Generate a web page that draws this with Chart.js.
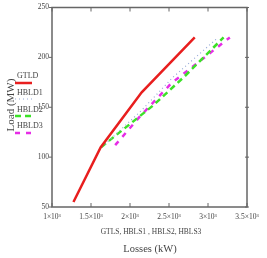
<!DOCTYPE html>
<html>
<head>
<meta charset="utf-8">
<script src="https://cdn.jsdelivr.net/npm/chart.js@4.4.1/dist/chart.umd.min.js"></script>
<style>
    html, body { margin: 0; padding: 0; background: #fff; overflow: hidden; }
    canvas { display: block; }
</style>
</head>
<body>
<canvas id="lossChart" width="267" height="258"></canvas>
<script>
// losses (kW) vs load (MW)
const gtldLoss = [1275, 1625, 2150, 2830];
const gtldLoad = [55, 110, 165, 220];
const hbld1Loss = [1640, 2150, 2550, 3130];
const hbld1Load = [110, 147, 180, 220];
const hbld2Loss = [1630, 2300, 2700, 3200];
const hbld2Load = [110, 152, 181, 220];
const hbld3Loss = [1810, 2130, 2530, 2810, 3280];
const hbld3Load = [112, 141, 174, 191, 220];

const seriesNames = ['GTLD', 'HBLD1', 'HBLD2', 'HBLD3'];
const xTicks = [1000, 1500, 2000, 2500, 3000, 3500];
const xTickLabels = ['1×10³', '1.5×10³', '2×10³', '2.5×10³', '3×10³', '3.5×10³'];
const yTicks = [50, 100, 150, 200, 250];

const axisColor = '#666';
const textColor = '#444';

function pairs(xs, ys) {
    return xs.map((x, i) => ({ x: x, y: ys[i] }));
}

const styles = [
    { color: 'rgb(232,30,30)', width: 2.5, dash: [] },
    { color: 'rgb(150,170,215)', width: 1.2, dash: [1, 3] },
    { color: 'rgb(60,225,40)', width: 2.5, dash: [6, 4] },
    { color: 'rgb(230,45,230)', width: 2.5, dash: [5, 6] }
];

const decor = {
    id: 'decor',
    afterDraw(chart) {
        const ctx = chart.ctx;
        const a = chart.chartArea;
        const xs = chart.scales.x;
        const ys = chart.scales.y;
        ctx.save();
        // box
        ctx.strokeStyle = axisColor;
        ctx.lineWidth = 1.5;
        ctx.strokeRect(a.left, a.top, a.right - a.left, a.bottom - a.top);
        // tick marks
        ctx.lineWidth = 1;
        xTicks.forEach(v => {
            const px = xs.getPixelForValue(v);
            ctx.beginPath();
            ctx.moveTo(px, a.bottom); ctx.lineTo(px, a.bottom - 4);
            ctx.moveTo(px, a.top); ctx.lineTo(px, a.top + 4);
            ctx.stroke();
        });
        yTicks.forEach(v => {
            const py = ys.getPixelForValue(v);
            ctx.beginPath();
            ctx.moveTo(a.left - 3, py); ctx.lineTo(a.left, py);
            ctx.moveTo(a.right - 2, py); ctx.lineTo(a.right + 2, py);
            ctx.stroke();
        });
        // axis titles
        ctx.fillStyle = textColor;
        ctx.textAlign = 'center';
        ctx.textBaseline = 'middle';
        ctx.font = '7.5px "Liberation Serif"';
        ctx.fillText('GTLS, HBLS1 , HBLS2, HBLS3', 151, 232);
        ctx.font = '10.5px "Liberation Serif"';
        ctx.fillText('Losses (kW)', 150, 249);
        ctx.save();
        ctx.translate(11, 105);
        ctx.rotate(-Math.PI / 2);
        ctx.font = '11px "Liberation Serif"';
        ctx.fillText('Load (MW)', 0, 0);
        ctx.restore();
        // legend
        const textY = [76, 93, 110, 126];
        const lineY = [83, 99, 116, 133];
        ctx.font = '8px "Liberation Serif"';
        ctx.textAlign = 'left';
        seriesNames.forEach((name, i) => {
            ctx.fillStyle = textColor;
            ctx.fillText(name, 17, textY[i]);
            const s = styles[i];
            ctx.strokeStyle = s.color;
            ctx.lineWidth = s.width;
            ctx.setLineDash(s.dash);
            ctx.beginPath();
            ctx.moveTo(15, lineY[i]);
            ctx.lineTo(32, lineY[i]);
            ctx.stroke();
            ctx.setLineDash([]);
        });
        ctx.restore();
    }
};

const allData = [
    pairs(gtldLoss, gtldLoad),
    pairs(hbld1Loss, hbld1Load),
    pairs(hbld2Loss, hbld2Load),
    pairs(hbld3Loss, hbld3Load)
];

const ctx = document.getElementById('lossChart').getContext('2d');
new Chart(ctx, {
    type: 'scatter',
    data: {
        datasets: seriesNames.map((name, i) => ({
            label: name,
            data: allData[i],
            showLine: true,
            borderColor: styles[i].color,
            borderWidth: styles[i].width,
            borderDash: styles[i].dash,
            pointRadius: 0,
            fill: false,
            tension: 0
        }))
    },
    options: {
        responsive: false,
        animation: false,
        devicePixelRatio: 1,
        layout: { padding: { top: 5, right: 20, left: 0, bottom: 0 } },
        plugins: {
            legend: { display: false },
            tooltip: { enabled: false }
        },
        scales: {
            x: {
                type: 'linear',
                min: 1000,
                max: 3500,
                afterBuildTicks: scale => { scale.ticks = xTicks.map(v => ({ value: v })); },
                afterFit: scale => { scale.height = 51; },
                grid: { display: false, drawTicks: false },
                border: { display: false },
                ticks: {
                    padding: 6,
                    color: textColor,
                    font: { family: 'Liberation Serif', size: 7.5 },
                    maxRotation: 0,
                    autoSkip: false,
                    callback: value => xTickLabels[xTicks.indexOf(value)]
                }
            },
            y: {
                type: 'linear',
                min: 50,
                max: 250,
                afterBuildTicks: scale => { scale.ticks = yTicks.map(v => ({ value: v })); },
                afterFit: scale => { scale.width = 52; },
                grid: { display: false, drawTicks: false },
                border: { display: false },
                ticks: {
                    padding: 3,
                    color: textColor,
                    font: { family: 'Liberation Serif', size: 7.5 },
                    autoSkip: false
                }
            }
        }
    },
    plugins: [decor]
});
</script>
</body>
</html>
